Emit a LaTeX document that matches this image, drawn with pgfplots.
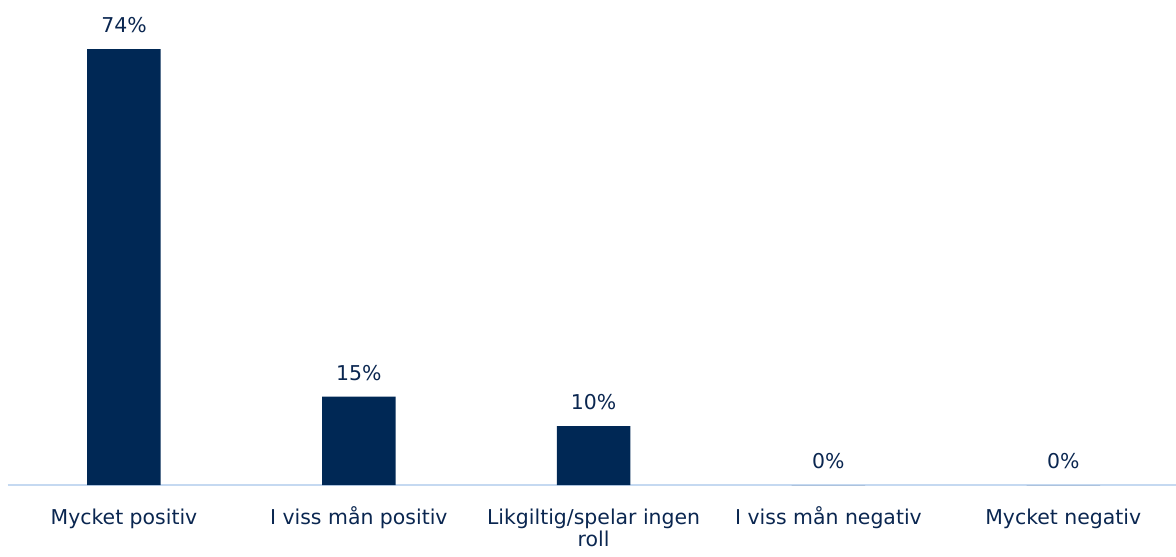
\documentclass[border=0pt]{standalone}
\usepackage{fontspec}
\setmainfont{DejaVu Sans}
\usepackage{pgfplots}
\pgfplotsset{compat=1.18}
\definecolor{barc}{RGB}{0,40,85}
\definecolor{txt}{RGB}{10,38,80}
\definecolor{axl}{RGB}{197,217,241}
\begin{document}
\begin{tikzpicture}
\begin{axis}[
  scale only axis, width=1168.5bp, height=471.2bp,
  xmin=-0.496, xmax=4.480, ymin=0, ymax=80,
  axis x line=bottom, axis y line=none,
  x axis line style={-, draw=axl, line width=1.5bp},
  xtick={0,1,2,3,4},
  xticklabels={Mycket positiv, I viss mån positiv, {\begin{tabular}[t]{@{}c@{}}Likgiltig/spelar ingen\\roll\end{tabular}}, I viss mån negativ, Mycket negativ},
  major tick length=0pt,
  xticklabel style={font=\fontsize{20.5}{22}\selectfont, text=txt, anchor=base, inner sep=0pt, yshift=-39bp},
  ytick=\empty,
  /pgf/number format/assume math mode=true,
  ybar, bar width=73.5bp,
  nodes near coords={\pgfmathprintnumber{\pgfplotspointmeta}\%},
  every node near coord/.append style={font=\fontsize{20.5}{22}\selectfont, text=txt, anchor=base, inner sep=0pt, yshift=16.5bp},
  clip=false,
]
\addplot[fill=barc, draw=none] coordinates {(0,74) (1,15) (2,10) (3,0) (4,0)};
\end{axis}
\pgfresetboundingbox
\path (-7.5bp,-72bp) rectangle (1168.5bp,485bp);
\end{tikzpicture}
\end{document}
